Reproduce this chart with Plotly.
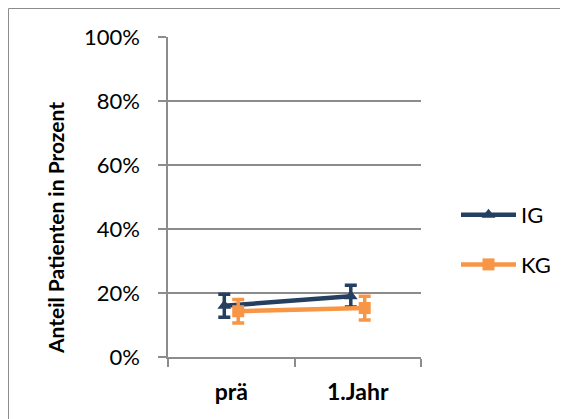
import plotly.graph_objects as go

categories = ["prä", "1.Jahr"]
ig_values = [16.0, 19.0]
ig_err = [3.6, 3.4]
kg_values = [14.3, 15.3]
kg_err = [3.7, 3.7]
y_ticks = [0, 20, 40, 60, 80, 100]
y_tick_text = ["0%", "20%", "40%", "60%", "80%", "100%"]
y_title = "Anteil Patienten in Prozent"

NAVY = "#243F60"
ORANGE = "#F79646"
GRID = "#8C8C8C"
FONT = "Lato"

L, R, T, B = 160, 155, 29, 70
W, H = 568, 419
PW, PH = W - L - R, H - T - B

def px_x(p):
    return (p - L) / PW

def px_y(p):
    return (H - B - p) / PH

fig = go.Figure()
fig.add_trace(go.Scatter(
    x=categories, y=ig_values, name="IG", mode="lines+markers",
    line=dict(color=NAVY, width=4.5),
    marker=dict(symbol="triangle-up", size=12, color=NAVY),
    error_y=dict(type="data", array=ig_err, visible=True, color=NAVY, thickness=3.5, width=6),
    offsetgroup="IG", legendgroup="IG",
))
fig.add_trace(go.Scatter(
    x=categories, y=kg_values, name="KG", mode="lines+markers",
    line=dict(color=ORANGE, width=4.5),
    marker=dict(symbol="square", size=12, color=ORANGE),
    error_y=dict(type="data", array=kg_err, visible=True, color=ORANGE, thickness=3.5, width=6),
    offsetgroup="KG", legendgroup="KG",
))

fig.update_layout(
    width=W, height=H,
    margin=dict(l=L, r=R, t=T, b=B, autoexpand=False),
    paper_bgcolor="white", plot_bgcolor="white",
    font=dict(family=FONT, size=22, color="black"),
    scattermode="group", scattergap=0.78,
    showlegend=True,
    legend=dict(x=px_x(448), y=px_y(232), xanchor="left", yanchor="middle",
                font=dict(size=22), tracegroupgap=18, bgcolor="rgba(0,0,0,0)",
                itemwidth=55),
    shapes=[dict(type="rect", xref="paper", yref="paper",
                 x0=px_x(0.5), x1=px_x(W - 0.5), y0=px_y(H - 0.5), y1=px_y(0.5),
                 line=dict(color=GRID, width=1))],
    annotations=[dict(text=y_title, xref="paper", yref="paper", x=px_x(47), y=px_y(220),
                      textangle=-90, showarrow=False, xanchor="center", yanchor="middle",
                      font=dict(family=FONT, size=21, color="black", weight="bold"))],
)
fig.update_xaxes(
    type="category", showgrid=False, showline=True, linecolor=GRID, linewidth=1.5,
    ticks="outside", tickson="boundaries", ticklen=8, tickcolor=GRID, tickwidth=1.5,
    ticklabelstandoff=14,
    tickfont=dict(family=FONT, size=23, color="black", weight="bold"),
)
fig.update_yaxes(
    range=[0, 100], tickmode="array", tickvals=y_ticks, ticktext=y_tick_text,
    showgrid=True, gridcolor=GRID, gridwidth=1.5,
    showline=True, linecolor=GRID, linewidth=1.5, ticks="outside", ticklen=8, tickcolor=GRID, tickwidth=1.5,
    ticklabelstandoff=14,
    tickfont=dict(family=FONT, size=22, color="black"), zeroline=False,
)

fig.write_html("out.html")
